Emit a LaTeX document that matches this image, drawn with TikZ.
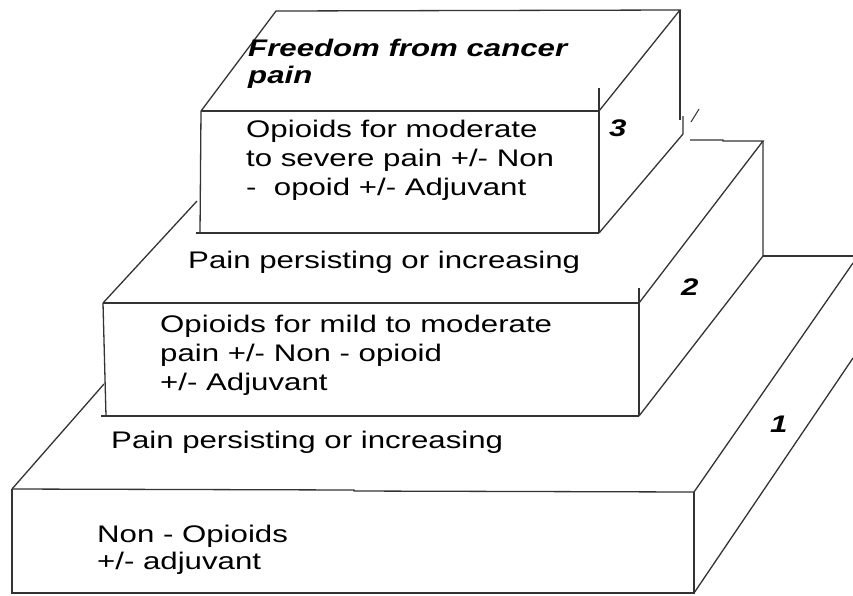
\documentclass[tikz,border=0pt]{standalone}
\usepackage{fontspec}
\setmainfont{Liberation Sans}[FakeStretch=1.3]
\begin{document}
\begin{tikzpicture}[x=1pt,y=-1pt,
  edge/.style={draw=black!80,line width=1.3pt},
  txt/.style={anchor=base west,inner sep=0pt,font=\fontsize{24}{29}\selectfont},
  ttl/.style={anchor=base west,inner sep=0pt,font=\fontsize{24}{29}\selectfont\bfseries\itshape}]
\useasboundingbox (0,0) rectangle (853,595);
% ---- step 3 (top box)
\coordinate (t1) at (276,11);
\coordinate (t2) at (680,10);
\coordinate (f3tl) at (201,111);
\coordinate (f3tr) at (599,111);
\coordinate (f3bl) at (200,233);
\coordinate (f3br) at (599,233);
\draw[edge] (f3tl) -- (t1) -- (t2) -- (f3tr);
\draw[edge] (f3tl) -- (f3tr);
\draw[edge] (f3tl) -- (f3bl);
\draw[edge] (196,233) -- (f3br);
\draw[edge] (599,88) -- (f3br);
\draw[edge] (t2) -- (680,120);
\draw[edge] (683,116) -- (683,134) -- (f3br);
\draw[edge,line width=1pt] (699,109) -- (691,122);
% ---- step 2
\coordinate (b2l) at (690,140);
\coordinate (b2r) at (763,141);
\coordinate (f2tl) at (103,303);
\coordinate (f2tr) at (639,303);
\coordinate (f2bl) at (106,416);
\coordinate (f2br) at (639,416);
\coordinate (s2b) at (763,256);
\draw[edge] (b2l) -- (723,140) -- (723,141) -- (b2r) -- (f2tr);
\draw[edge] (b2r) -- (s2b) -- (f2br);
\draw[edge] (f2tl) -- (f2tr);
\draw[edge] (f2tl) -- (f2bl);
\draw[edge] (101,416) -- (f2br);
\draw[edge] (639,288) -- (f2br);
\draw[edge] (f2tl) -- (197,201);
% ---- step 1
\coordinate (f1tl) at (12,489);
\coordinate (f1tr) at (694,492);
\coordinate (f1bl) at (12,593);
\coordinate (f1br) at (694,593);
\draw[edge] (s2b) -- (853,256);
\draw[edge] (f1tr) -- (853,263);
\draw[edge] (f1br) -- (853,358);
\draw[edge] (f1tl) -- (354,490) -- (354,491) -- (f1tr);
\draw[edge] (f1tl) -- (f1bl) -- (f1br) -- (f1tr);
\draw[edge] (f1tl) -- (104,384);
% ---- texts
\node[ttl] (title1) at (248,56) {Freedom from cancer};
\node[ttl] (title2) at (248,83) {pain};
\node[ttl] (n3) at (609,136) {3};
\node[ttl] (n2) at (681,295) {2};
\node[ttl] (n1) at (770,432) {1};
\node[txt] (a1) at (246,137) {Opioids for moderate};
\node[txt] (a2) at (246,166) {to severe pain +/- Non};
\node[txt] (a3) at (246,195) {-\ \ opoid +/- Adjuvant};
\node[txt] (p1) at (188,268) {Pain persisting or increasing};
\node[txt] (b1) at (160,332) {Opioids for mild to moderate};
\node[txt] (b2) at (160,361) {pain +/- Non - opioid};
\node[txt] (b3) at (160,390) {+/- Adjuvant};
\node[txt] (p2) at (111,448) {Pain persisting or increasing};
\node[txt] (c1) at (97,542) {Non - Opioids};
\node[txt] (c2) at (97,569) {+/- adjuvant};
\end{tikzpicture}
\end{document}
